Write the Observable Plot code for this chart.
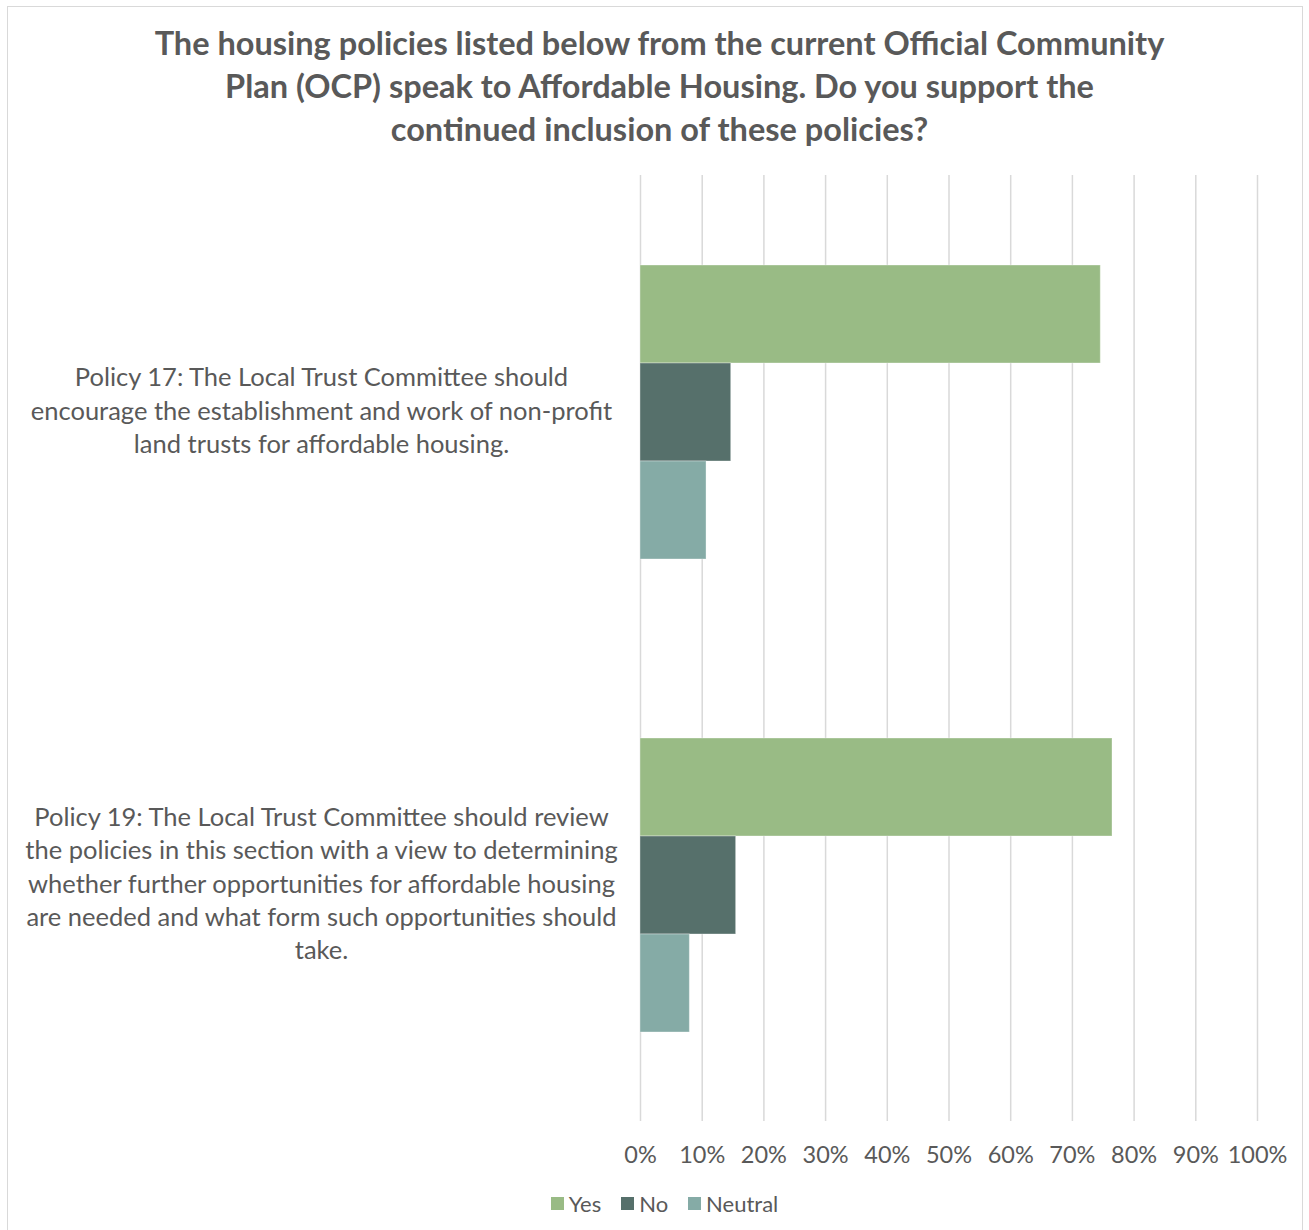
<!DOCTYPE html>
<html>
<head>
<meta charset="utf-8">
<script src="https://cdn.jsdelivr.net/npm/d3@7"></script>
<script src="https://cdn.jsdelivr.net/npm/@observablehq/plot@0.6"></script>
<style>
  html, body { margin: 0; padding: 0; background: #fff; }
  #wrap { position: relative; width: 1309px; height: 1230px; overflow: hidden; font-family: Lato, "Open Sans", sans-serif; }
  #frame { position: absolute; left: 7px; top: 6px; width: 1296px; height: 1240px; border: 1.5px solid #d9d9d9; box-sizing: border-box; pointer-events: none; }
  #title { height: 160px; box-sizing: border-box; padding-top: 21px; text-align: center; font-weight: 700; font-size: 32.5px; line-height: 43px; color: #595959; padding-left: 10px; white-space: nowrap; }
  #chart svg { display: block; }
  #legend { height: 46px; display: flex; align-items: center; justify-content: center; gap: 20px; font-size: 22px; color: #595959; padding-left: 20px; }
  #legend .item { display: flex; align-items: center; gap: 5px; }
  #legend .sw { width: 13px; height: 13px; display: inline-block; }
</style>
</head>
<body>
<div id="wrap">
  <div id="frame"></div>
  <div id="title">The housing policies listed below from the current Official Community<br>Plan (OCP) speak to Affordable Housing. Do you support the<br>continued inclusion of these policies?</div>
  <div id="chart"></div>
  <div id="legend"></div>
</div>
<script>
// ---- data ----
const policies = [
  "Policy 17: The Local Trust Committee should\nencourage the establishment and work of non-profit\nland trusts for affordable housing.",
  "Policy 19: The Local Trust Committee should review\nthe policies in this section with a view to determining\nwhether further opportunities for affordable housing\nare needed and what form such opportunities should\ntake."
];
const seriesNames = ["Yes", "No", "Neutral"];
const seriesColors = ["#99bb85", "#56706b", "#85aba6"];
const yesValues = [0.746, 0.765];
const noValues = [0.147, 0.155];
const neutralValues = [0.107, 0.080];
const xTicks = [0, 0.1, 0.2, 0.3, 0.4, 0.5, 0.6, 0.7, 0.8, 0.9, 1.0];

const valuesBySeries = [yesValues, noValues, neutralValues];
const rows = [];
policies.forEach((p, i) => {
  seriesNames.forEach((s, j) => rows.push({policy: p, series: s, value: valuesBySeries[j][i]}));
});

const chart = Plot.plot({
  width: 1309,
  height: 1020,
  marginLeft: 640,
  marginRight: 52,
  marginTop: 15,
  marginBottom: 59,
  style: {fontFamily: "Lato, 'Open Sans', sans-serif", color: "#595959", background: "transparent"},
  x: {domain: [0, 1], axis: null, label: null},
  y: {domain: seriesNames, paddingInner: 0, paddingOuter: 0.91, axis: null},
  fy: {domain: policies, padding: 0, axis: null},
  color: {domain: seriesNames, range: seriesColors},
  marks: [
    Plot.gridX(xTicks, {stroke: "#d9d9d9", strokeOpacity: 1, strokeWidth: 1.5}),
    Plot.barX(rows, {fy: "policy", y: "series", x: "value", fill: "series", stroke: "#ffffff", strokeOpacity: 0.35, strokeWidth: 1}),
    Plot.text(policies, {fy: d => d, text: d => d, frameAnchor: "left", dx: -319, dy: -3, textAnchor: "middle", fontSize: 25.5, lineHeight: 1.31, fill: "#595959"}),
    Plot.axisX(xTicks, {tickFormat: d3.format(".0%"), tickSize: 0, tickPadding: 25, fontSize: 23.5, fill: "#595959", label: null})
  ]
});
document.getElementById("chart").appendChild(chart);

const legend = document.getElementById("legend");
seriesNames.forEach((s, i) => {
  const item = document.createElement("span");
  item.className = "item";
  const sw = document.createElement("span");
  sw.className = "sw";
  sw.style.background = seriesColors[i];
  item.appendChild(sw);
  item.appendChild(document.createTextNode(s));
  legend.appendChild(item);
});
</script>
</body>
</html>
